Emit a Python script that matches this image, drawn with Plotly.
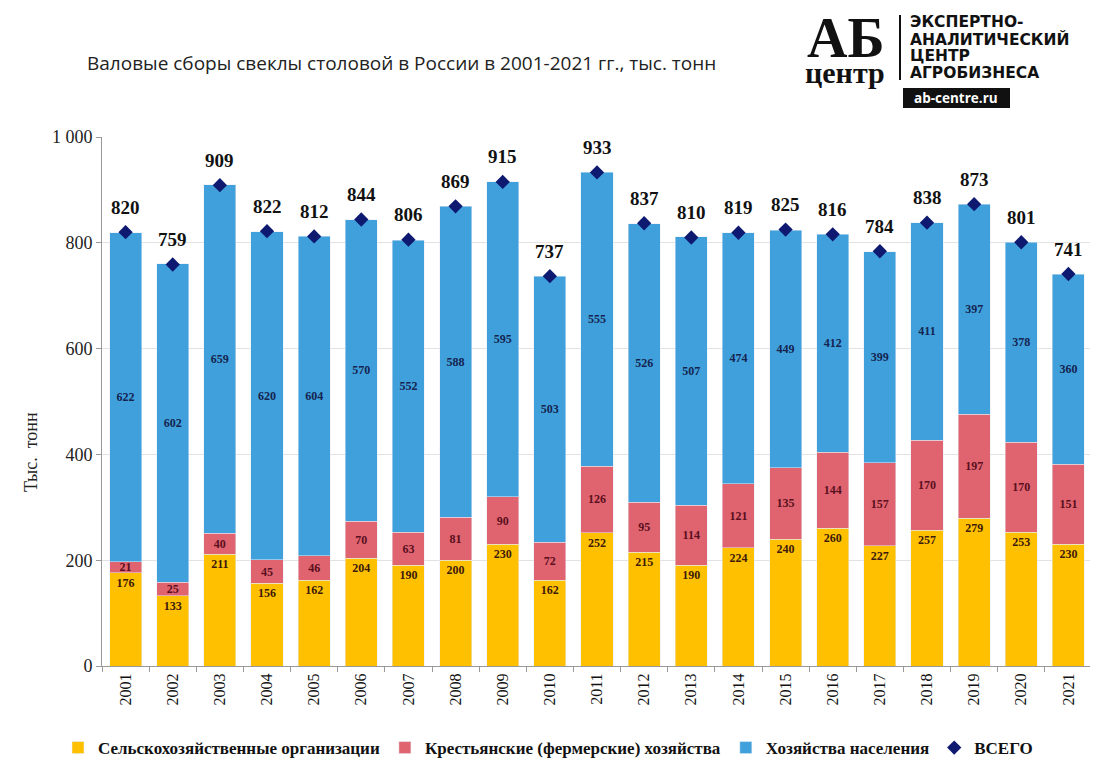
import plotly.graph_objects as go

years = [str(y) for y in range(2001, 2022)]
agri_orgs = [176, 133, 211, 156, 162, 204, 190, 200, 230, 162, 252, 215, 190, 224, 240, 260, 227, 257, 279, 253, 230]
farms = [21, 25, 40, 45, 46, 70, 63, 81, 90, 72, 126, 95, 114, 121, 135, 144, 157, 170, 197, 170, 151]
households = [622, 602, 659, 620, 604, 570, 552, 588, 595, 503, 555, 526, 507, 474, 449, 412, 399, 411, 397, 378, 360]
totals = [820, 759, 909, 822, 812, 844, 806, 869, 915, 737, 933, 837, 810, 819, 825, 816, 784, 838, 873, 801, 741]

y_tickvals = [0, 200, 400, 600, 800, 1000]
y_ticktext = ["0", "200", "400", "600", "800", "1 000"]

logo_lines = ["ЭКСПЕРТНО-", "АНАЛИТИЧЕСКИЙ", "ЦЕНТР", "АГРОБИЗНЕСА"]

SERIF = "Liberation Serif, Times New Roman, serif"

OFF = 8  # page body margin
W, H = 1098 - OFF, 760 - OFF
L, T = 102 - OFF, 137 - OFF
R = W - (1092 - OFF)
B = H - (666 - OFF)
PW = W - L - R
PH = H - T - B


def px(xp):
    return (xp - OFF - L) / PW


def py(yp):
    return 1 + (T - (yp - OFF)) / PH


fig = go.Figure()
fig.add_trace(go.Bar(
    x=years, y=agri_orgs, name="Сельскохозяйственные организации",
    marker=dict(color="#FFC000"), text=agri_orgs, textposition="inside",
    insidetextanchor="end", textangle=0, constraintext="none",
    textfont=dict(family=SERIF, size=12, color="#3d1a0a", weight="bold"),
))
fig.add_trace(go.Bar(
    x=years, y=farms, name="Крестьянские (фермерские) хозяйства",
    marker=dict(color="#E0646F"), text=farms, textposition="inside",
    insidetextanchor="middle", textangle=0, constraintext="none",
    textfont=dict(family=SERIF, size=12, color="#5a0f1e", weight="bold"),
))
fig.add_trace(go.Bar(
    x=years, y=households, name="Хозяйства населения",
    marker=dict(color="#40A0DC"), text=households, textposition="inside",
    insidetextanchor="middle", textangle=0, constraintext="none",
    textfont=dict(family=SERIF, size=12, color="#14244f", weight="bold"),
))
fig.add_trace(go.Scatter(
    x=years, y=totals, name="ВСЕГО", mode="markers",
    marker=dict(symbol="diamond", size=11, color="#0d1a70"),
))

for i, t in enumerate(totals):
    fig.add_annotation(x=i, y=t, text=f"<b>{t}</b>", showarrow=False,
                       yshift=25, font=dict(family=SERIF, size=19, color="#111"))

# Title
fig.add_annotation(xref="paper", yref="paper", x=px(85), y=py(63),
                   xanchor="left", yanchor="middle", showarrow=False,
                   text="Валовые сборы свеклы столовой в России в 2001-2021 гг., тыс. тонн",
                   font=dict(family="Open Sans, sans-serif", size=19, color="#222"))

# Y axis title
fig.add_annotation(xref="paper", yref="paper", x=px(31), y=py(452), xanchor="center", yanchor="middle",
                   showarrow=False, textangle=-90, text="Тыс.  тонн",
                   font=dict(family=SERIF, size=18, color="#222"))

# Logo
fig.add_annotation(xref="paper", yref="paper", x=px(845), y=py(38), xanchor="center", yanchor="middle",
                   showarrow=False, text="<b>АБ</b>", borderpad=0,
                   font=dict(family=SERIF, size=56, color="#111"))
fig.add_annotation(xref="paper", yref="paper", x=px(845), y=py(73), xanchor="center", yanchor="middle",
                   showarrow=False, text="<b>центр</b>", borderpad=0,
                   font=dict(family=SERIF, size=30, color="#111"))
fig.add_shape(type="line", xref="paper", yref="paper", x0=px(900), x1=px(900), y0=py(15), y1=py(80),
              line=dict(color="#111", width=2))
for k, line in enumerate(logo_lines):
    fig.add_annotation(xref="paper", yref="paper", x=px(909), y=py(22 + 17 * k), xanchor="left",
                       yanchor="middle", showarrow=False, text=f"<b>{line}</b>", borderpad=0,
                       font=dict(family="DejaVu Sans, sans-serif", size=15.5, color="#111"))
fig.add_shape(type="rect", xref="paper", yref="paper", x0=px(903), x1=px(1010), y0=py(108), y1=py(88),
              fillcolor="#111", line=dict(width=0))
fig.add_annotation(xref="paper", yref="paper", x=px(956), y=py(98), xanchor="center", yanchor="middle",
                   showarrow=False, text="<b>ab-centre.ru</b>",
                   font=dict(family="Open Sans, sans-serif", size=13.5, color="white"))

fig.update_layout(
    barmode="stack", bargap=0.32,
    width=W, height=H,
    margin=dict(l=L, r=R, t=T, b=B, autoexpand=False),
    paper_bgcolor="white", plot_bgcolor="white",
    showlegend=True,
    legend=dict(orientation="h", x=px(58), y=py(748), xanchor="left", yanchor="middle",
                font=dict(family=SERIF, size=17, color="#111", weight="bold"),
                itemwidth=30, traceorder="normal", tracegroupgap=0),
    font=dict(family=SERIF),
)
fig.update_xaxes(type="category", range=[-0.5, 20.5], tickangle=-90,
                 tickfont=dict(family=SERIF, size=16, color="#111"),
                 showline=True, linecolor="#999", ticks="outside", tickson="boundaries",
                 ticklen=5, tickcolor="#999", showgrid=False, automargin=False)
fig.update_yaxes(range=[0, 1000], tickvals=y_tickvals, ticktext=y_ticktext,
                 tickfont=dict(family=SERIF, size=18, color="#222"),
                 showline=True, linecolor="#999", ticks="outside", ticklen=5, tickcolor="#999",
                 showgrid=True, gridcolor="#e2e2e2", zeroline=False, automargin=False)

fig.write_html("out.html")
